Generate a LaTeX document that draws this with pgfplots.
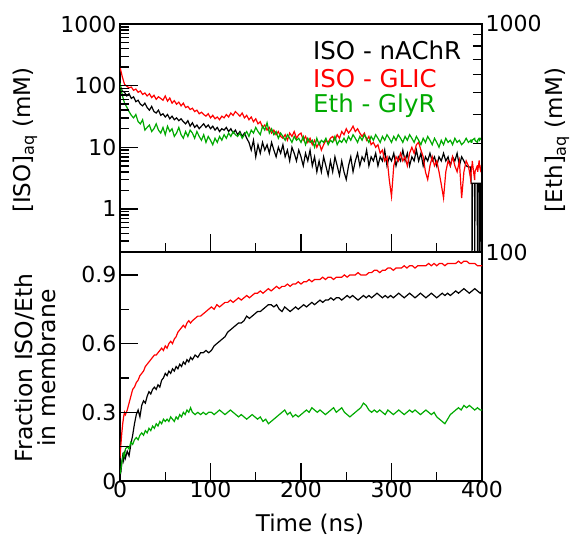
\documentclass[border=0pt]{standalone}
\usepackage{pgfplots}
\pgfplotsset{compat=1.18}
\usepackage{pgfplotstable}
\usepackage{fontspec}
\setmainfont{DejaVu Sans}

\definecolor{cred}{RGB}{255,0,0}
\definecolor{cgreen}{RGB}{0,170,0}

% top panel: aqueous concentrations (mM)
\pgfplotstableread{
t black red green
0 100 200 110
2.5 82 140 70
5 78 105 52
7.5 68 98 45
10 74 92 38
12.5 62 95 33
15 66 84 30
17.5 55 88 34
20 58 78 26
22.5 50 82 24
25 47 72 28
27.5 52 76 19
30 44 68 21
32.5 40 74 23
35 46 64 18
37.5 38 70 20
40 36 60 24
42.5 40 66 19
45 33 62 17
47.5 35 58 21
50 31 68 16
52.5 34 56 22
55 29 63 18
57.5 32 52 20
60 28 57 15
62.5 30 50 17
65 27 54 21
67.5 29 47 16
70 26 52 14
72.5 24 44 18
75 27 46 15
77.5 22 41 19
80 25 43 17
82.5 21 38 14
85 23 40 18
87.5 20 35 15
90 22 37 13
92.5 24 34 16
95 21 32 12
97.5 23 35 15
100 20 30 13
102.5 22 33 11
105 19 29 14
107.5 21 31 12
110 18 28 15
112.5 20 32 13
115 19 30 16
117.5 21 34 14
120 18 31 17
122.5 20 36 15
125 17 33 18
127.5 19 38 16
130 16 35 15
132.5 18 32 17
135 15 36 14
137.5 17 30 16
140 14 33 18
142.5 12 28 15
145 9 31 19
147.5 13 26 17
150 7 29 21
152.5 11 24 18
155 8 26 16
157.5 12 21 22
160 9 23 19
162.5 11 19 25
165 8 21 17
167.5 12 17 20
170 9 19 16
172.5 7 16 18
175 10 18 14
177.5 8 15 17
180 11 14 15
182.5 7 16 13
185 9 13 16
187.5 6 17 14
190 10 15 12
192.5 8 18 15
195 6 14 13
197.5 9 16 14
200 7 17 12
202.5 5 13 15
205 8 15 11
207.5 6 12 14
210 9 14 12
212.5 5 11 13
215 7 13 10
217.5 4 10 14
220 6 12 11
222.5 4 9 13
225 7 11 12
227.5 5 13 14
230 3.5 12 11
232.5 6 14 13
235 4 15 12
237.5 7 13 15
240 5 16 11
242.5 3.5 14 13
245 6 18 12
247.5 4 16 14
250 3 20 12
252.5 5 17 15
255 7 19 13
257.5 4 22 16
260 6 18 14
262.5 8 20 12
265 5 17 15
267.5 7 15 13
270 6 17 16
272.5 9 13 14
275 5 15 12
277.5 7 11 15
280 6 12 13
282.5 8 10 16
285 5 11 14
287.5 7 8 12
290 6 9 15
292.5 9 6 13
295 5 7 16
297.5 7 3 14
300 6 1.6 12
302.5 8 5 15
305 5 7 13
307.5 7 6 16
310 6 8 14
312.5 9 6 12
315 6 7 15
317.5 8 5 13
320 5 8 16
322.5 7 10 14
325 6 8 12
327.5 9 11 15
330 6 12 13
332.5 8 9 11
335 5 7 14
337.5 7 4 12
340 6 3 15
342.5 8 5 13
345 6 7 11
347.5 7 5 14
350 5 6 12
352.5 7 4 10
355 6 2.5 13
357.5 8 1.5 11
360 6 4 14
362.5 7 6 12
365 5 5 13
367.5 7 7 11
370 6 5 14
372.5 8 4 12
375 5 6 13
377.5 7 1.5 11
380 6 4 12
382.5 5 6 14
385 4.8 5 12
387.5 4.8 3 13
388 2.6 4 12
388.8 2.6 5 12
389 0.01 5 13
389.2 2.6 6 13
391.8 2.6 3 14
392 0.01 3 14
392.2 2.6 4 13
394.8 2.6 5 12
395 0.01 5 12
395.2 2.6 4 13
396.8 2.6 6 14
397 0.01 6 14
397.2 2.6 5 13
398.8 2.6 4 14
399 0.01 4 14
399.2 2.6 5 14
400 2.6 5 15
}\topdata

% bottom panel: fraction in membrane
\pgfplotstableread{
t black red green
0 0.02 0.10 0.03
1 0.04 0.16 0.05
2 0.08 0.21 0.08
3 0.11 0.25 0.10
4 0.09 0.28 0.12
5 0.12 0.30 0.11
6 0.10 0.29 0.14
8 0.13 0.31 0.15
10 0.11 0.34 0.14
12 0.16 0.37 0.17
14 0.20 0.40 0.16
16 0.25 0.41 0.18
18 0.29 0.43 0.19
20 0.31 0.44 0.18
22 0.28 0.46 0.20
24 0.33 0.47 0.21
26 0.35 0.48 0.20
28 0.34 0.50 0.22
30 0.37 0.51 0.21
32 0.39 0.52 0.23
34 0.38 0.53 0.22
36 0.40 0.54 0.24
38 0.41 0.55 0.23
40 0.40 0.55 0.25
42 0.42 0.56 0.24
44 0.41 0.57 0.26
46 0.44 0.58 0.25
48 0.45 0.57 0.27
50 0.47 0.59 0.26
52 0.46 0.58 0.27
54 0.48 0.60 0.26
56 0.47 0.61 0.28
58 0.49 0.60 0.27
60 0.48 0.62 0.26
62 0.50 0.63 0.28
64 0.49 0.65 0.27
66 0.51 0.66 0.29
68 0.50 0.67 0.28
70 0.52 0.68 0.30
72 0.51 0.67 0.29
74 0.53 0.69 0.31
76 0.52 0.70 0.30
78 0.54 0.69 0.32
80 0.53 0.70 0.30
83 0.55 0.71 0.29
86 0.54 0.72 0.30
89 0.56 0.72 0.29
92 0.56 0.73 0.30
95 0.57 0.74 0.29
98 0.56 0.75 0.30
101 0.57 0.76 0.30
104 0.59 0.75 0.29
107 0.60 0.77 0.30
110 0.61 0.76 0.31
113 0.62 0.77 0.30
116 0.63 0.78 0.29
119 0.65 0.78 0.30
122 0.66 0.79 0.31
125 0.67 0.78 0.30
128 0.68 0.79 0.29
131 0.69 0.80 0.28
134 0.69 0.79 0.29
137 0.70 0.80 0.28
140 0.72 0.81 0.27
143 0.71 0.80 0.28
146 0.72 0.81 0.29
149 0.73 0.82 0.28
152 0.74 0.82 0.27
155 0.74 0.83 0.28
158 0.75 0.82 0.26
161 0.76 0.83 0.27
164 0.77 0.84 0.25
167 0.77 0.83 0.26
170 0.76 0.84 0.27
173 0.77 0.85 0.28
176 0.75 0.84 0.29
179 0.74 0.85 0.30
182 0.76 0.85 0.31
185 0.75 0.86 0.29
188 0.74 0.85 0.30
191 0.75 0.86 0.28
194 0.76 0.86 0.29
197 0.75 0.87 0.28
200 0.76 0.86 0.29
203 0.77 0.87 0.30
206 0.76 0.87 0.31
209 0.77 0.88 0.30
212 0.78 0.87 0.32
215 0.77 0.88 0.31
218 0.78 0.88 0.30
221 0.79 0.88 0.31
224 0.78 0.89 0.30
227 0.79 0.88 0.29
230 0.79 0.89 0.30
233 0.80 0.89 0.31
236 0.79 0.88 0.32
239 0.80 0.89 0.30
242 0.80 0.89 0.31
245 0.79 0.89 0.32
248 0.80 0.90 0.30
251 0.81 0.89 0.29
254 0.80 0.90 0.28
257 0.81 0.90 0.29
260 0.80 0.90 0.30
263 0.79 0.91 0.31
266 0.80 0.90 0.32
269 0.81 0.90 0.34
272 0.80 0.90 0.33
275 0.81 0.91 0.31
278 0.80 0.91 0.30
281 0.81 0.92 0.31
284 0.82 0.92 0.30
287 0.81 0.91 0.31
290 0.80 0.92 0.30
293 0.81 0.92 0.29
296 0.80 0.93 0.31
299 0.81 0.93 0.30
302 0.80 0.92 0.29
305 0.81 0.93 0.30
308 0.82 0.93 0.31
311 0.81 0.93 0.30
314 0.80 0.94 0.29
317 0.81 0.93 0.30
320 0.82 0.94 0.31
323 0.81 0.94 0.30
326 0.80 0.93 0.31
329 0.81 0.94 0.30
332 0.82 0.94 0.29
335 0.81 0.94 0.30
338 0.80 0.94 0.31
341 0.81 0.95 0.30
344 0.82 0.94 0.29
347 0.81 0.95 0.30
350 0.80 0.94 0.28
353 0.81 0.95 0.27
356 0.82 0.95 0.26
359 0.81 0.94 0.25
362 0.82 0.95 0.27
365 0.81 0.95 0.29
368 0.82 0.95 0.30
371 0.83 0.95 0.31
374 0.82 0.96 0.32
377 0.83 0.95 0.31
380 0.84 0.96 0.33
383 0.83 0.96 0.32
386 0.82 0.95 0.33
389 0.83 0.95 0.32
392 0.84 0.95 0.31
395 0.83 0.94 0.32
398 0.82 0.94 0.31
400 0.83 0.94 0.31
}\botdata

\pgfplotsset{
  panel/.style={
    scale only axis, width=362pt, anchor=south west,
    xmin=0, xmax=400, ticks=both,
    tickwidth=18pt, subtickwidth=9pt,
    xtick style={draw=black, line width=1.4pt},
    ytick style={draw=black, line width=1.4pt},
    axis line style={line width=1.2pt},
    tick label style={font=\fontsize{22}{26}\selectfont},
  },
  series/.style={line width=1.2pt},
  tk/.style={black, line width=1.4pt, forget plot},
}

\begin{document}
\begin{tikzpicture}
\useasboundingbox (0pt,0pt) rectangle (570pt,536pt);

% top panel, left axis
\begin{axis}[panel, at={(120pt,284pt)}, height=228pt,
  ymode=log, ymin=0.2, ymax=1000,
  ytick={1,10,100,1000}, yticklabels={1,10,100,1000},
  minor ytick={0.2,0.3,0.4,0.5,0.6,0.7,0.8,0.9,2,3,4,5,6,7,8,9,20,30,40,50,60,70,80,90,200,300,400,500,600,700,800,900},
  xtick={0,100,200,300,400}, minor xtick={50,150,250,350},
  xticklabels={}, xtick pos=left, ytick pos=left]
\addplot[series, black] table[x=t, y=black] {\topdata};
\addplot[series, cred] table[x=t, y=red] {\topdata};
\addplot[series, cgreen] table[x=t, y=green] {\topdata};
% tick marks (major 18pt, minor 9pt, inside)
\pgfplotsinvokeforeach{1,10,100}{\addplot[tk] coordinates {(0,#1) (20,#1)};}
\pgfplotsinvokeforeach{0.3,0.4,0.5,0.6,0.7,0.8,0.9,2,3,4,5,6,7,8,9,20,30,40,50,60,70,80,90,200,300,400,500,600,700,800,900}{\addplot[tk] coordinates {(0,#1) (10,#1)};}
\pgfplotsinvokeforeach{100,200,300}{\addplot[tk] coordinates {(#1,0.2) (#1,0.392)};}
\pgfplotsinvokeforeach{50,150,250,350}{\addplot[tk] coordinates {(#1,0.2) (#1,0.28)};}
\end{axis}

% top panel, right axis
\begin{axis}[panel, at={(120pt,284pt)}, height=228pt,
  ymode=log, ymin=100, ymax=1000,
  axis y line*=right, hide x axis,
  ytick={100,1000}, yticklabels={100,1000},
  minor ytick={200,300,400,500,600,700,800,900}]
\addplot[draw=none] coordinates {(0,200) (400,200)};
\pgfplotsinvokeforeach{200,300,400,500,600,700,800,900}{\addplot[tk] coordinates {(390,#1) (400,#1)};}
\end{axis}

% bottom panel
\begin{axis}[panel, at={(120pt,55pt)}, height=229pt,
  ymin=0, ymax=1,
  ytick={0,0.3,0.6,0.9}, yticklabels={0,0.3,0.6,0.9},
  minor ytick={0.15,0.45,0.75},
  xtick={0,100,200,300,400}, minor xtick={50,150,250,350},
  xticklabels={0,100,200,300,400},
  xticklabel style={yshift=3pt},
  xtick pos=left, ytick pos=left]
\addplot[series, black] table[x=t, y=black] {\botdata};
\addplot[series, cred] table[x=t, y=red] {\botdata};
\addplot[series, cgreen] table[x=t, y=green] {\botdata};
% tick marks
\pgfplotsinvokeforeach{0.3,0.6,0.9}{\addplot[tk] coordinates {(0,#1) (20,#1)};}
\pgfplotsinvokeforeach{0.15,0.45,0.75}{\addplot[tk] coordinates {(0,#1) (10,#1)};}
\pgfplotsinvokeforeach{100,200,300}{\addplot[tk] coordinates {(#1,0) (#1,0.0786)};}
\pgfplotsinvokeforeach{50,150,250,350}{\addplot[tk] coordinates {(#1,0) (#1,0.039)};}
\end{axis}

% legend text
\begin{scope}[every node/.style={anchor=base west, font=\fontsize{24.5}{28}\selectfont, inner sep=0pt}]
\node[text=black] at (313pt,476pt) {ISO - nAChR};
\node[text=cred] at (313pt,448pt) {ISO - GLIC};
\node[text=cgreen] at (313pt,423pt) {Eth - GlyR};
\end{scope}

% axis titles
\node[rotate=90, font=\fontsize{23}{27}\selectfont] at (25pt,396pt) {[ISO]\textsubscript{aq} (mM)};
\node[rotate=90, font=\fontsize{23}{27}\selectfont] at (557pt,396pt) {[Eth]\textsubscript{aq} (mM)};
\node[rotate=90, align=center, font=\fontsize{23.5}{23}\selectfont] at (35pt,168pt) {Fraction ISO/Eth\\in membrane};
\node[anchor=base, inner sep=0pt, font=\fontsize{23}{27}\selectfont] at (310pt,5pt) {Time (ns)};
\end{tikzpicture}
\end{document}
